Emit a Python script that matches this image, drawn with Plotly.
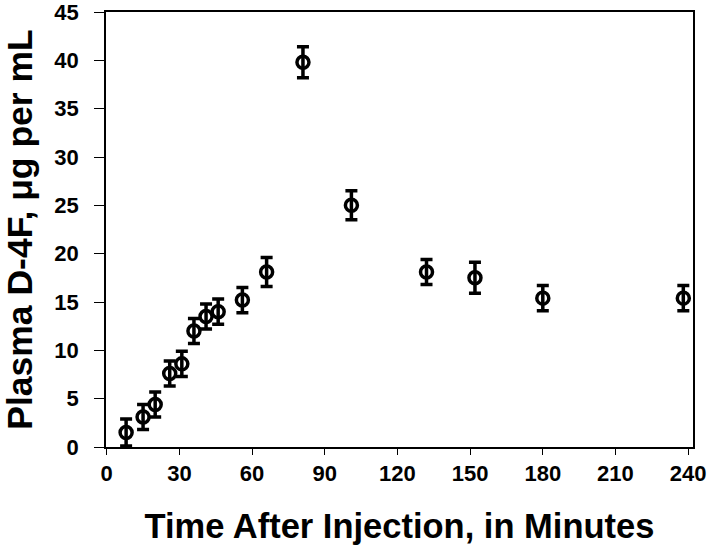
import plotly.graph_objects as go

time_min = [8, 15, 20, 26, 31, 36, 41, 46, 56, 66, 81, 101, 132, 152, 180, 238]
d4f_ug_ml = [1.5, 3.1, 4.4, 7.6, 8.6, 12.0, 13.5, 14.0, 15.2, 18.1, 39.8, 25.0, 18.1, 17.5, 15.4, 15.4]
d4f_err = [1.4, 1.3, 1.3, 1.3, 1.3, 1.3, 1.3, 1.3, 1.3, 1.5, 1.6, 1.5, 1.3, 1.6, 1.3, 1.3]

x_ticks = [0, 30, 60, 90, 120, 150, 180, 210, 240]
y_ticks = [0, 5, 10, 15, 20, 25, 30, 35, 40, 45]

FONT = "Liberation Sans, Arial, sans-serif"

fig = go.Figure()
fig.add_trace(go.Scatter(
    x=time_min, y=d4f_ug_ml, mode="markers",
    marker=dict(symbol="circle-open", size=12, color="black", line=dict(width=3.5, color="black")),
    error_y=dict(type="data", array=d4f_err, visible=True, color="black", thickness=3.5, width=6),
    showlegend=False,
))

fig.update_layout(
    width=711, height=549,
    margin=dict(l=106, r=18, t=12, b=102),
    paper_bgcolor="white", plot_bgcolor="white",
    font=dict(family=FONT, color="black"),
    xaxis=dict(
        range=[-0.3, 242], tickvals=x_ticks, ticktext=[str(v) for v in x_ticks],
        showgrid=False, zeroline=False, showline=True, linecolor="black", linewidth=1.5,
        mirror=True, ticks="outside", ticklen=6, tickwidth=1, tickcolor="black",
        ticklabeloverflow="allow",
        tickfont=dict(family=FONT, size=22, weight="bold"),
        title=dict(text="Time After Injection, in Minutes", font=dict(family=FONT, size=34.5, weight="bold"), standoff=29),
        automargin=False,
    ),
    yaxis=dict(
        range=[0, 45], tickvals=y_ticks, ticktext=[str(v) for v in y_ticks],
        showgrid=False, zeroline=False, showline=True, linecolor="black", linewidth=1.5,
        mirror=True, ticks="outside", ticklen=10, tickwidth=1, tickcolor="black",
        ticklabelstandoff=11, ticklabeloverflow="allow",
        tickfont=dict(family=FONT, size=22, weight="bold"),
        title=dict(text="Plasma D-4F, μg per mL", font=dict(family=FONT, size=35.5, weight="bold"), standoff=15),
        automargin=False,
    ),
)

fig.write_html(
    "out.html",
    config={"displayModeBar": False},
    post_script="document.body.style.margin='0';document.body.style.overflow='hidden';",
)
